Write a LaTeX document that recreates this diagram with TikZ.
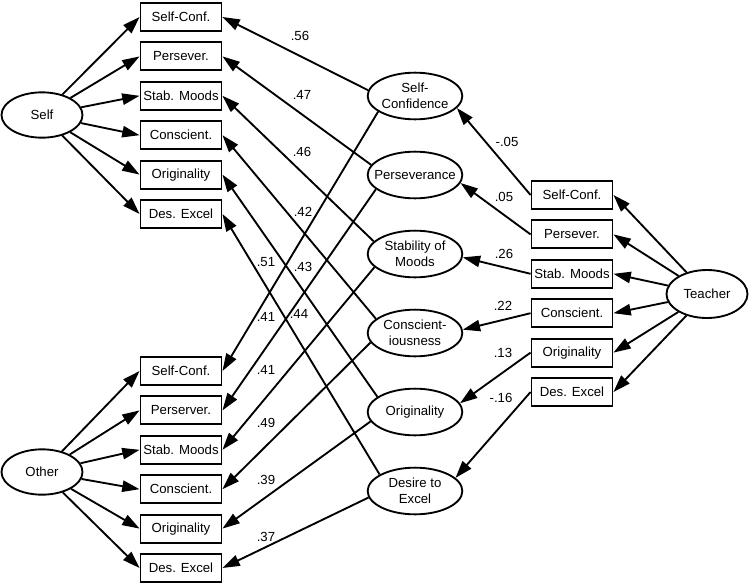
\documentclass[tikz,border=0pt]{standalone}
\usepackage{fontspec}
\setmainfont{Liberation Sans}
\usetikzlibrary{positioning,shapes.geometric,arrows.meta}

\begin{document}
\begin{tikzpicture}[x=0.75pt,y=-0.75pt]
 	\tikzstyle{every node}=[font=\fontsize{9.9}{12}\selectfont]
 	\tikzstyle{ind}=[rectangle, draw=black, line width=1.4pt, minimum width=60.75pt, minimum height=21pt, inner sep=1pt, node distance=7.15pt]
 	\tikzstyle{rater}=[ellipse, draw=black, line width=1.4pt, minimum width=60.75pt, minimum height=34pt, inner sep=0pt]
 	\tikzstyle{trait}=[ellipse, draw=black, line width=1.4pt, minimum width=71pt, minimum height=35pt, inner xsep=-6pt, inner ysep=0pt, align=center, node distance=22.85pt]
 	\tikzstyle{connect}=[-{Triangle[length=13pt,width=8.5pt]}, line width=1.4pt]
 	\tikzstyle{coef}=[inner sep=0pt]
 	\useasboundingbox (0,0) rectangle (750,586);
 	% raters
 	\node[rater] (self) at (42,115) {Self};
 	\node[rater] (other) at (42,472) {Other};
 	\node[rater, minimum height=36pt] (teacher) at (707,294) {Teacher};
 	% self ratings
 	\node[ind] (sSC) at (181,17) {Self-Conf.};
 	\node[ind] (sPS) [below=of sSC] {Persever.};
 	\node[ind] (sSM) [below=of sPS] {Stab. Moods};
 	\node[ind] (sCO) [below=of sSM] {Conscient.};
 	\node[ind] (sOR) [below=of sCO] {Originality};
 	\node[ind] (sDE) [below=of sOR] {Des. Excel};
 	% other ratings
 	\node[ind] (oSC) at (181,371) {Self-Conf.};
 	\node[ind] (oPS) [below=of oSC] {Perserver.};
 	\node[ind] (oSM) [below=of oPS] {Stab. Moods};
 	\node[ind] (oCO) [below=of oSM] {Conscient.};
 	\node[ind] (oOR) [below=of oCO] {Originality};
 	\node[ind] (oDE) [below=of oOR] {Des. Excel};
 	% teacher ratings
 	\node[ind] (tSC) at (572,195) {Self-Conf.};
 	\node[ind] (tPS) [below=of tSC] {Persever.};
 	\node[ind] (tSM) [below=of tPS] {Stab. Moods};
 	\node[ind] (tCO) [below=of tSM] {Conscient.};
 	\node[ind] (tOR) [below=of tCO] {Originality};
 	\node[ind] (tDE) [below=of tOR] {Des. Excel};
 	% traits
 	\node[trait] (conf) at (415,96) {Self-\\Confidence};
 	\node[trait] (pers) [below=of conf] {Perseverance};
 	\node[trait] (stab) [below=of pers] {Stability of\\Moods};
 	\node[trait] (consc) [below=of stab] {Conscient-\\iousness};
 	\node[trait] (orig) [below=of consc] {Originality};
 	\node[trait] (excel) [below=of orig] {Desire to\\Excel};
 	\path (self) edge [connect] (sSC.west)
 	(self) edge [connect] (sPS.west)
 	(self) edge [connect] (sSM.west)
 	(self) edge [connect] (sCO.west)
 	(self) edge [connect] (sOR.west)
 	(self) edge [connect] (sDE.west)
 	(other) edge [connect] (oSC.west)
 	(other) edge [connect] (oPS.west)
 	(other) edge [connect] (oSM.west)
 	(other) edge [connect] (oCO.west)
 	(other) edge [connect] (oOR.west)
 	(other) edge [connect] (oDE.west)
 	(teacher) edge [connect] (tSC.east)
 	(teacher) edge [connect] (tPS.east)
 	(teacher) edge [connect] (tSM.east)
 	(teacher) edge [connect] (tCO.east)
 	(teacher) edge [connect] (tOR.east)
 	(teacher) edge [connect] (tDE.east);
 	\path (tSC.west) edge [connect] (conf.344)
 	(tPS.west) edge [connect] (pers.350)
 	(tSM.west) edge [connect] (stab.356)
 	(tCO.west) edge [connect] (consc.4)
 	(tOR.west) edge [connect] (orig.11)
 	(tDE.west) edge [connect] (excel.18);
 	\path (conf.173) edge [connect] (sSC.east)
 	(conf.203) edge [connect] (oSC.east)
 	(pers.167) edge [connect] (sPS.east)
 	(pers.200) edge [connect] (oPS.east)
 	(stab.163) edge [connect] (sSM.east)
 	(stab.198) edge [connect] (oSM.east)
 	(consc.160) edge [connect] (sCO.east)
 	(consc.192) edge [connect] (oCO.east)
 	(orig.158) edge [connect] (sOR.east)
 	(orig.192) edge [connect] (oOR.east)
 	(excel.155) edge [connect] (sDE.east)
 	(excel.188) edge [connect] (oDE.east);
 	% coefficients
 	\node[coef] (l1) at (300,36) {.56};
 	\node[coef] (l2) at (302,95) {.47};
 	\node[coef] (l3) at (302,152) {.46};
 	\node[coef] (l4) at (303,212) {.42};
 	\node[coef] (l5) at (303,267) {.43};
 	\node[coef] (l6) at (299,314) {.44};
 	\node[coef] (m1) at (266,262) {.51};
 	\node[coef] (m2) at (266,317) {.41};
 	\node[coef] (m3) at (266,370) {.41};
 	\node[coef] (m4) at (266,423) {.49};
 	\node[coef] (m5) at (266,480) {.39};
 	\node[coef] (m6) at (266,537) {.37};
 	\node[coef] (r1) at (507,142) {-.05};
 	\node[coef] (r2) at (504,197) {.05};
 	\node[coef] (r3) at (504,254) {.26};
 	\node[coef] (r4) at (503,306) {.22};
 	\node[coef] (r5) at (503,353) {.13};
 	\node[coef] (r6) at (501,398) {-.16};
\end{tikzpicture}
\end{document}
